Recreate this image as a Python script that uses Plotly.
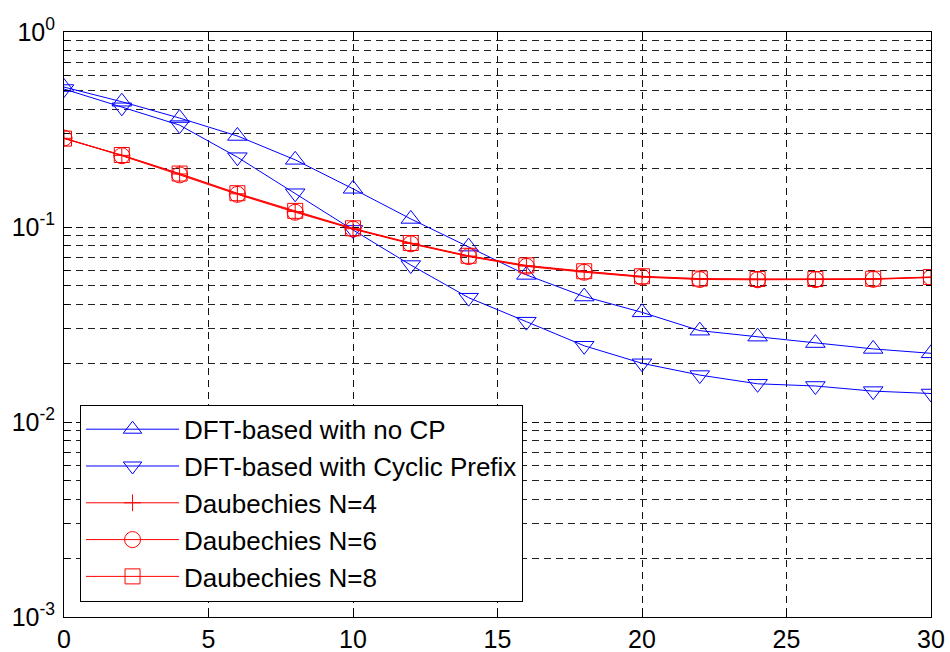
import plotly.graph_objects as go

snr = [0, 2, 4, 6, 8, 10, 12, 14, 16, 18, 20, 22, 24, 26, 28, 30]

dft_no_cp = [0.522, 0.439, 0.362, 0.293, 0.221, 0.157, 0.110, 0.0793, 0.0568, 0.0440,
             0.0365, 0.0294, 0.0274, 0.0254, 0.0237, 0.0225]
dft_cp = [0.510, 0.411, 0.333, 0.228, 0.149, 0.0966, 0.0638, 0.0434, 0.0327, 0.0246,
          0.0200, 0.0174, 0.0157, 0.0153, 0.0144, 0.0140]
daub4 = [0.285, 0.233, 0.187, 0.148, 0.120, 0.0980, 0.0824, 0.0709, 0.0631, 0.0590,
         0.0556, 0.0541, 0.0539, 0.0539, 0.0541, 0.0552]
daub6 = [0.286, 0.232, 0.185, 0.147, 0.119, 0.0975, 0.0820, 0.0705, 0.0628, 0.0586,
         0.0553, 0.0538, 0.0536, 0.0537, 0.0539, 0.0551]
daub8 = [0.284, 0.234, 0.188, 0.149, 0.121, 0.0985, 0.0828, 0.0712, 0.0636, 0.0593,
         0.0559, 0.0544, 0.0541, 0.0541, 0.0543, 0.0554]

names = ["DFT-based with no CP", "DFT-based with Cyclic Prefix",
         "Daubechies N=4", "Daubechies N=6", "Daubechies N=8"]

x_ticks = [0, 5, 10, 15, 20, 25, 30]
y_major = [1e-3, 1e-2, 1e-1, 1e0]
y_major_text = ["10<sup>-3</sup>", "10<sup>-2</sup>", "10<sup>-1</sup>", "10<sup>0</sup>"]
y_minor = [m * 10.0 ** e for e in (-3, -2, -1) for m in range(2, 10)]

BLUE = "#0000FF"
RED = "#FF0000"

fig = go.Figure()

series = [
    (dft_no_cp, BLUE, "triangle-up-open", 17),
    (dft_cp, BLUE, "triangle-down-open", 17),
    (daub4, RED, "cross-thin-open", 12),
    (daub6, RED, "circle-open", 16),
    (daub8, RED, "square-open", 15),
]
for (vals, col, sym, sz), nm in zip(series, names):
    fig.add_trace(go.Scatter(
        x=snr, y=vals, name=nm, mode="lines+markers",
        line=dict(color=col, width=1),
        marker=dict(symbol=sym, size=sz, color=col, line=dict(color=col, width=1)),
    ))

fig.update_xaxes(
    range=[0, 30], tickvals=x_ticks, ticks="inside", ticklen=8, tickcolor="black",
    showline=True, linecolor="black", linewidth=1, mirror="ticks",
    showgrid=True, gridcolor="#111111", gridwidth=1, griddash="7px,5px",
    zeroline=False, tickfont=dict(size=25, color="black"), ticklabelstandoff=0,
    automargin=False,
)
fig.update_yaxes(
    type="log", range=[-3, 0], tickvals=y_major, ticktext=y_major_text,
    ticks="inside", ticklen=8, tickcolor="black",
    showline=True, linecolor="black", linewidth=1, mirror="ticks",
    showgrid=True, gridcolor="#111111", gridwidth=1, griddash="7px,5px",
    zeroline=False, tickfont=dict(size=25, color="black"), ticklabelstandoff=3,
    automargin=False,
    minor=dict(tickvals=y_minor, ticks="inside", ticklen=5, tickcolor="black",
               showgrid=True, gridcolor="#222222", gridwidth=1, griddash="7px,5px"),
)

fig.update_layout(
    width=950, height=652,
    margin=dict(l=64, r=19, t=32, b=35),
    paper_bgcolor="white", plot_bgcolor="white",
    font=dict(family="Liberation Sans, Arial, sans-serif", color="black"),
    legend=dict(
        x=0.0185, y=0.026, xanchor="left", yanchor="bottom",
        bgcolor="white", bordercolor="black", borderwidth=1,
        font=dict(size=26, color="black"), itemwidth=93,
        tracegroupgap=0,
    ),
    showlegend=True,
)

fig.write_html("out.html")
